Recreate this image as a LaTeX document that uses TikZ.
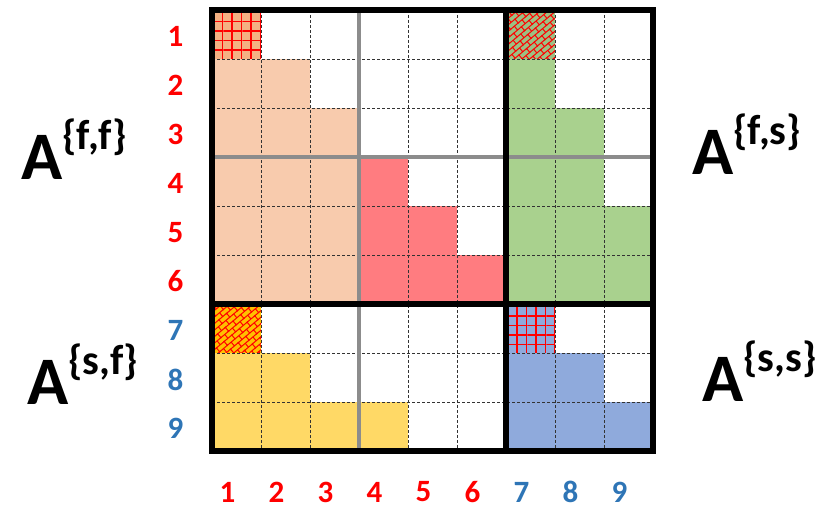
\documentclass[tikz,border=0pt]{standalone}
\usepackage{fontspec}
\setmainfont{Carlito}
\usetikzlibrary{patterns,patterns.meta}
\definecolor{peach}{HTML}{F8CBAD}
\definecolor{peachdk}{HTML}{F4B183}
\definecolor{grn}{HTML}{A9D18E}
\definecolor{rd}{HTML}{FF7C80}
\definecolor{yel}{HTML}{FFD966}
\definecolor{org}{HTML}{FFC000}
\definecolor{blu}{HTML}{8FAADC}
\definecolor{lblred}{HTML}{FF0000}
\definecolor{lblblue}{HTML}{2E75B6}
\tikzdeclarepattern{
  name=mybricks,
  type=uncolored,
  bounding box={(-1pt,-1pt) and (11pt,11pt)},
  tile size={(10pt,10pt)},
  tile transformation={rotate=40},
  code={
    \draw[line width=1pt] (-1pt,0)--(11pt,0) (-1pt,5pt)--(11pt,5pt) (0,0)--(0,5pt) (5pt,5pt)--(5pt,10pt);
  }
}
\tikzset{
  thickline/.style={line width=6pt,black},
  grayline/.style={line width=3.5pt,gray!90},
  dashline/.style={line width=0.9pt,black!80,dash pattern=on 3pt off 2pt},
  rowlbl/.style={font=\fontsize{31}{31}\selectfont\bfseries,anchor=center},
  biglbl/.style={anchor=base west,inner sep=0pt},
}
\newcommand\fillcell[3]{\fill[#3] ({212+49*(#2-1)},{10+49*(#1-1)}) rectangle ++(49,49);}
\newcommand\gridcell[2]{%
  \fill[pattern={Lines[distance=9.5pt,yshift=4pt,line width=1.2pt]},pattern color=red] ({212+49*(#2-1)},{10+49*(#1-1)}) rectangle ++(49,49);
  \fill[pattern={Lines[distance=9.5pt,angle=90,xshift=4pt,line width=1.2pt]},pattern color=red] ({212+49*(#2-1)},{10+49*(#1-1)}) rectangle ++(49,49);}
\newcommand\brickcell[2]{%
  \fill[pattern=mybricks,pattern color=red] ({212+49*(#2-1)},{10+49*(#1-1)}) rectangle ++(49,49);}
\newcommand\bigA[3]{\node[biglbl] at (#1) {\fontsize{68}{68}\selectfont\bfseries A\raisebox{#3pt}{\fontsize{42}{42}\selectfont\{#2\}}};}
\begin{document}
\begin{tikzpicture}[x=1pt,y=-1pt]
\useasboundingbox (0,0) rectangle (830,510);
% fills
\fillcell{1}{1}{peachdk}
\gridcell{1}{1}
\fillcell{1}{7}{grn!92!black}
\brickcell{1}{7}
\foreach \r in {2,...,6} \fillcell{\r}{1}{peach};
\foreach \r in {3,...,6} \fillcell{\r}{2}{peach};
\fillcell{2}{2}{peach}
\foreach \r in {3,...,6} \fillcell{\r}{3}{peach};
\foreach \r in {4,5,6} \fillcell{\r}{4}{rd};
\foreach \r in {5,6} \fillcell{\r}{5}{rd};
\fillcell{6}{6}{rd}
\foreach \r in {2,...,6} \fillcell{\r}{7}{grn};
\foreach \r in {3,...,6} \fillcell{\r}{8}{grn};
\foreach \r in {5,6} \fillcell{\r}{9}{grn};
\fillcell{7}{1}{org}
\brickcell{7}{1}
\fillcell{7}{7}{blu}
\gridcell{7}{7}
\fillcell{8}{1}{yel}
\fillcell{8}{2}{yel}
\foreach \c in {1,...,4} \fillcell{9}{\c}{yel};
\fillcell{8}{7}{blu}
\fillcell{8}{8}{blu}
\foreach \c in {7,8,9} \fillcell{9}{\c}{blu};
% dashed grid
\foreach \i in {1,2,4,5,7,8} {
  \draw[dashline] ({212+49*\i},10) -- ({212+49*\i},451);
  \draw[dashline] (212,{10+49*\i}) -- (653,{10+49*\i});
}
% gray lines
\draw[grayline] (359,10) -- (359,451);
\draw[grayline] (212,157) -- (653,157);
% thick lines
\draw[thickline] (506,10) -- (506,451);
\draw[thickline] (212,304) -- (653,304);
\draw[thickline] (212,10) rectangle (653,451);
% row labels
\foreach \r in {1,...,6} \node[rowlbl,text=lblred] at (175.5,{10+49*(\r-0.5)+2}) {\r};
\foreach \r in {7,8,9} \node[rowlbl,text=lblblue] at (175.5,{10+49*(\r-0.5)+2}) {\r};
% column labels
\foreach \c in {1,...,6} \node[rowlbl,text=lblred] at ({227.5+49*(\c-1)},492) {\c};
\foreach \c in {7,8,9} \node[rowlbl,text=lblblue] at ({227.5+49*(\c-1)},492) {\c};
% big labels
\bigA{21,180}{f,f}{30}
\bigA{692,175}{f,s}{30}
\bigA{27,405}{s,f}{30}
\bigA{702,402}{s,s}{30}
\end{tikzpicture}
\end{document}
